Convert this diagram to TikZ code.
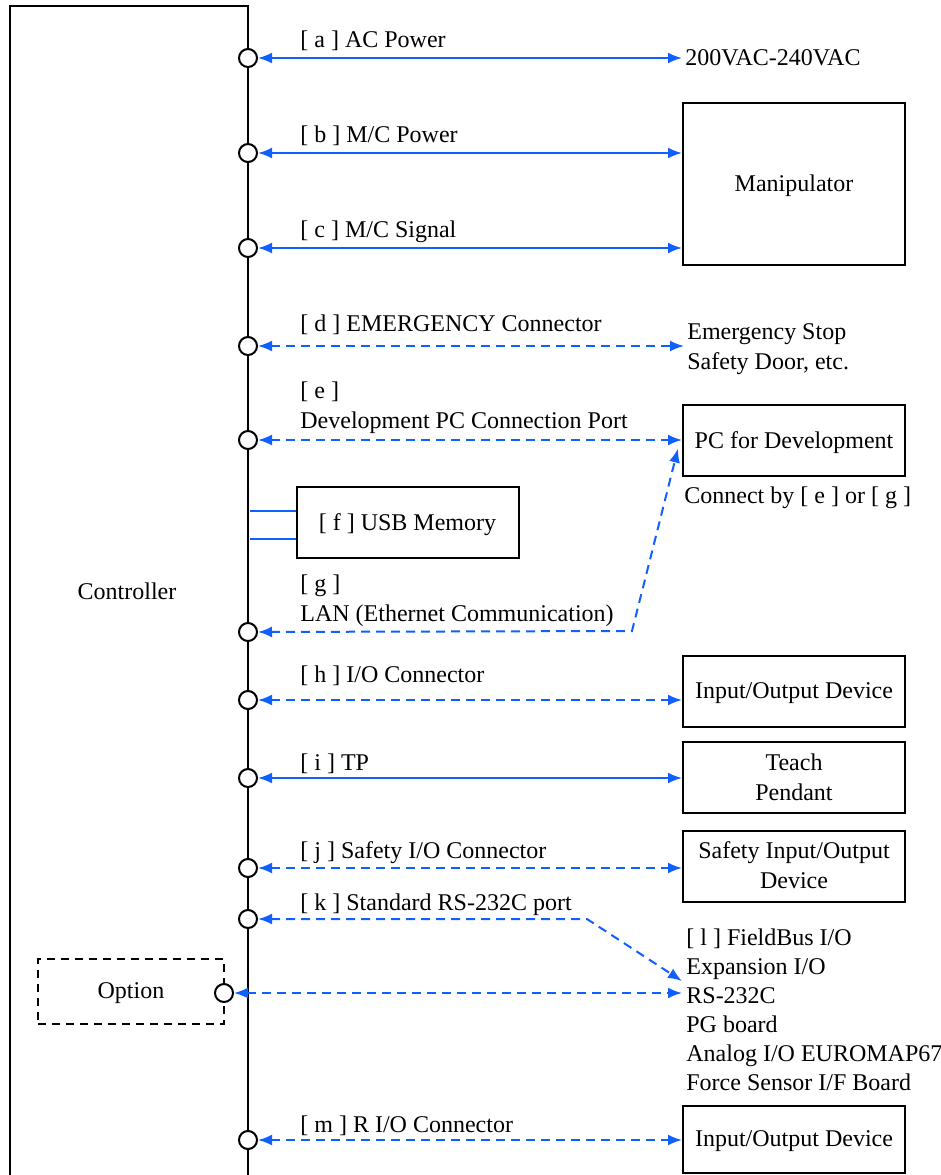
\documentclass[tikz,border=0pt]{standalone}
\usepackage{fontspec}
\setmainfont{Liberation Serif}
\usetikzlibrary{positioning,arrows.meta}
\definecolor{linkblue}{RGB}{16,96,255}

\begin{document}
\begin{tikzpicture}[x=0.5pt, y=-0.5pt,
    font=\fontsize{12}{15}\selectfont,
    port/.style={circle, draw, line width=1pt, fill=white, minimum size=9pt, inner sep=0pt},
    device/.style={draw, line width=1pt, minimum width=111pt, minimum height=35.5pt, align=center, inner sep=2pt, text depth=0.5pt},
    lbl/.style={anchor=west, align=left, inner sep=0pt, yshift=-1pt},
    link/.style={linkblue, line width=1pt, {Latex[length=7pt,width=5.5pt]}-{Latex[length=7pt,width=5.5pt]}},
    dlink/.style={link, dash pattern=on 4.5pt off 3pt}]
  \useasboundingbox (0,0) rectangle (941,1175);
  % controller frame
  \draw[line width=1pt] (10,1180) -- (10,6) -- (248,6) -- (248,1180);
  \node (ctrl) at (127,591) {Controller};
  \foreach \n/\y in {a/58, b/153, c/248, d/346, e/440, g/632, h/700, i/778, j/868, k/919, m/1140}
    \node[port] (p\n) at (248,\y) {};
  % devices
  \node[device, minimum height=81pt] (manip) at (794,184) {Manipulator};
  \node[device] (devpc) at (794,440.5) {PC for Development};
  \node[device] (usb) at (407.5,522.5) {[ f ] USB Memory};
  \node[device] (io) at (794,691.5) {Input/Output Device};
  \node[device] (tp) at (794,777.5) {Teach\\Pendant};
  \node[device] (sio) at (794,866) {Safety Input/Output\\Device};
  \node[device, minimum height=33.5pt] (rio) at (794,1139.5) {Input/Output Device};
  \node[draw, line width=1pt, dash pattern=on 4pt off 3pt, minimum width=93pt, minimum height=32.5pt, text depth=0.5pt] (opt) at (131,991.5) {Option};
  \node[port] (popt) at (224,993) {};
  % free texts
  \node[lbl, inner sep=1.5pt] (ac) at (682,56) {200VAC-240VAC};
  \node[lbl, inner sep=1.5pt] (emerg) at (684,347.5) {Emergency Stop\\Safety Door, etc.};
  \node[lbl] (conn) at (684,496) {Connect by [ e ] or [ g ]};
  \node[lbl, font=\fontsize{12}{14.5}\selectfont] (opts) at (686,1007.5) {[ l ] FieldBus I/O\\Expansion I/O\\RS-232C\\PG board\\Analog I/O EUROMAP67\\Force Sensor I/F Board};
  \coordinate (rs) at (682,993);
  % connector labels
  \node[lbl] (la) at (300,39) {[ a ] AC Power};
  \node[lbl] (lb) at (300,134) {[ b ] M/C Power};
  \node[lbl] (lc) at (300,230) {[ c ] M/C Signal};
  \node[lbl] (ld) at (300,323) {[ d ] EMERGENCY Connector};
  \node[lbl] (le) at (300,406) {[ e ]\\Development PC Connection Port};
  \node[lbl] (lg) at (300,598.5) {[ g ]\\LAN (Ethernet Communication)};
  \node[lbl] (lh) at (300,674) {[ h ] I/O Connector};
  \node[lbl] (li) at (300,762) {[ i ] TP};
  \node[lbl] (lj) at (300,851) {[ j ] Safety I/O Connector};
  \node[lbl] (lk) at (300,903) {[ k ] Standard RS-232C port};
  \node[lbl] (lm) at (300,1124) {[ m ] R I/O Connector};
  % connectors
  \draw[link] (pa) -- (pa -| ac.west);
  \draw[link] (pb) -- (pb -| manip.west);
  \draw[link] (pc) -- (pc -| manip.west);
  \draw[dlink] (pd) -- (pd -| emerg.west);
  \draw[dlink] (pe) -- (pe -| devpc.west);
  \coordinate (f1) at (250,511);
  \coordinate (f2) at (250,539);
  \draw[linkblue, line width=1pt] (f1) -- (f1 -| usb.west);
  \draw[linkblue, line width=1pt] (f2) -- (f2 -| usb.west);
  \coordinate (gbend) at (632,631);
  \draw[dlink] (pg) -- (gbend) -- ([xshift=-2pt,yshift=-4pt]devpc.west);
  \draw[dlink] (ph) -- (ph -| io.west);
  \draw[link] (pi) -- (pi -| tp.west);
  \draw[dlink] (pj) -- (pj -| sio.west);
  \coordinate (kbend) at (587,919);
  \draw[dlink] (pk) -- (kbend) -- ([yshift=6pt]rs);
  \draw[dlink] (popt) -- (rs);
  \draw[dlink] (pm) -- (pm -| rio.west);
\end{tikzpicture}
\end{document}
